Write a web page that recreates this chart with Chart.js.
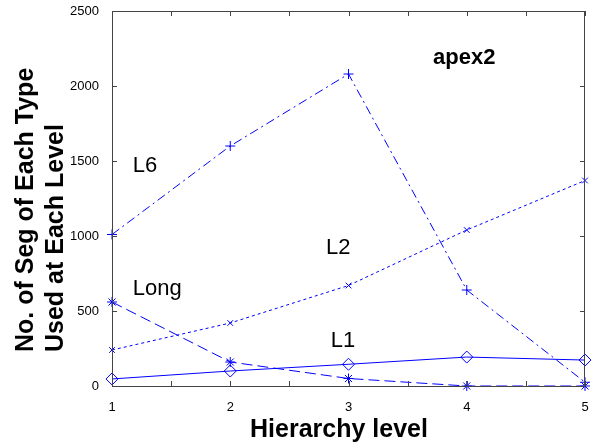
<!DOCTYPE html>
<html>
<head>
<meta charset="utf-8">
<title>apex2</title>
<script src="https://cdn.jsdelivr.net/npm/chart.js"></script>
<style>
  body { margin: 0; background: #fff; }
  #wrap { width: 592px; height: 443px; position: relative; }
</style>
</head>
<body>
<div id="wrap"><canvas id="chart"></canvas></div>
<script>
// hierarchy levels
const levels = [1, 2, 3, 4, 5];
// segments used per level
const l6Values   = [1010, 1600, 2080, 640, 25];
const l2Values   = [240, 420, 670, 1040, 1370];
const longValues = [560, 160, 50, 0, 0];
const l1Values   = [47, 100, 145, 193, 173];
const yTicks = [0, 500, 1000, 1500, 2000, 2500];

// text labels placed in data space (baseline, left edge)
const notes = [
  { text: 'L6', x: 1.176, y: 1427 },
  { text: 'L2', x: 2.81, y: 880 },
  { text: 'Long', x: 1.176, y: 607 },
  { text: 'L1', x: 2.85, y: 260 }
];

const blue = '#0000ff';
const font = 'Arial, "Liberation Sans", sans-serif';

function pts(vals) { return levels.map((x, i) => ({ x: x, y: vals[i] })); }

const framePlugin = {
  id: 'frame',
  afterDraw(chart) {
    const { ctx, chartArea: a, scales } = chart;
    ctx.save();
    ctx.strokeStyle = '#444';
    ctx.lineWidth = 1;
    ctx.strokeRect(a.left + 0.5, a.top + 0.5, a.right - a.left - 1, a.bottom - a.top);
    // inward ticks on all sides
    ctx.beginPath();
    for (let v = 1; v <= 5; v += 0.5) {
      const px = Math.round(scales.x.getPixelForValue(v)) + 0.5;
      ctx.moveTo(px, a.bottom); ctx.lineTo(px, a.bottom - 5);
      ctx.moveTo(px, a.top); ctx.lineTo(px, a.top + 5);
    }
    yTicks.forEach(v => {
      const py = Math.round(scales.y.getPixelForValue(v)) + 0.5;
      ctx.moveTo(a.left, py); ctx.lineTo(a.left + 5, py);
      ctx.moveTo(a.right, py); ctx.lineTo(a.right - 5, py);
    });
    ctx.stroke();

    // annotations
    ctx.fillStyle = '#000';
    ctx.textAlign = 'left';
    ctx.textBaseline = 'alphabetic';
    ctx.font = '22px ' + font;
    notes.forEach(n => {
      ctx.fillText(n.text, scales.x.getPixelForValue(n.x), scales.y.getPixelForValue(n.y));
    });
    ctx.font = 'bold 22px ' + font;
    ctx.fillText('apex2', 433, 64);

    // axis titles
    ctx.font = 'bold 25px ' + font;
    ctx.textAlign = 'center';
    ctx.fillText('Hierarchy level', 339, 437);
    ctx.textAlign = 'left';
    ctx.translate(33, 352);
    ctx.rotate(-Math.PI / 2);
    ctx.fillText('No. of Seg of Each Type', 0, 0);
    ctx.fillText('Used at Each Level', 0, 30);
    ctx.restore();
  }
};

new Chart(document.getElementById('chart'), {
  type: 'line',
  data: {
    datasets: [
      { label: 'L6', data: pts(l6Values), borderDash: [9, 4, 2, 4], pointStyle: 'cross', pointRadius: 5 },
      { label: 'L2', data: pts(l2Values), borderDash: [3, 3], pointStyle: 'crossRot', pointRadius: 4 },
      { label: 'Long', data: pts(longValues), borderDash: [11, 5], pointStyle: 'star', pointRadius: 5 },
      { label: 'L1', data: pts(l1Values), pointStyle: 'rectRot', pointRadius: 6 }
    ].map(d => Object.assign({
      borderColor: blue, borderWidth: 1, pointBorderColor: blue, pointBorderWidth: 1,
      pointBackgroundColor: 'rgba(0,0,0,0)', tension: 0, fill: false, clip: false
    }, d))
  },
  options: {
    responsive: true,
    maintainAspectRatio: false,
    animation: false,
    layout: { padding: { left: 0, top: 11, right: -3, bottom: 0 } },
    plugins: { legend: { display: false }, tooltip: { enabled: false } },
    scales: {
      x: {
        type: 'linear', min: 1, max: 5,
        grid: { display: false },
        border: { display: false },
        afterFit(s) { s.height = 57; s.paddingLeft = 0; s.paddingRight = 0; },
        afterBuildTicks(s) { s.ticks = levels.map(v => ({ value: v })); },
        ticks: { color: '#000', font: { size: 13, family: font }, padding: 6, maxRotation: 0,
                 callback: v => String(v) }
      },
      y: {
        min: 0, max: 2500,
        grid: { display: false },
        border: { display: false },
        afterFit(s) { s.width = 112; s.paddingTop = 0; s.paddingBottom = 0; },
        afterBuildTicks(s) { s.ticks = yTicks.map(v => ({ value: v })); },
        ticks: { color: '#000', font: { size: 13, family: font }, padding: 5,
                 callback: v => String(v) }
      }
    }
  },
  plugins: [framePlugin]
});
</script>
</body>
</html>
